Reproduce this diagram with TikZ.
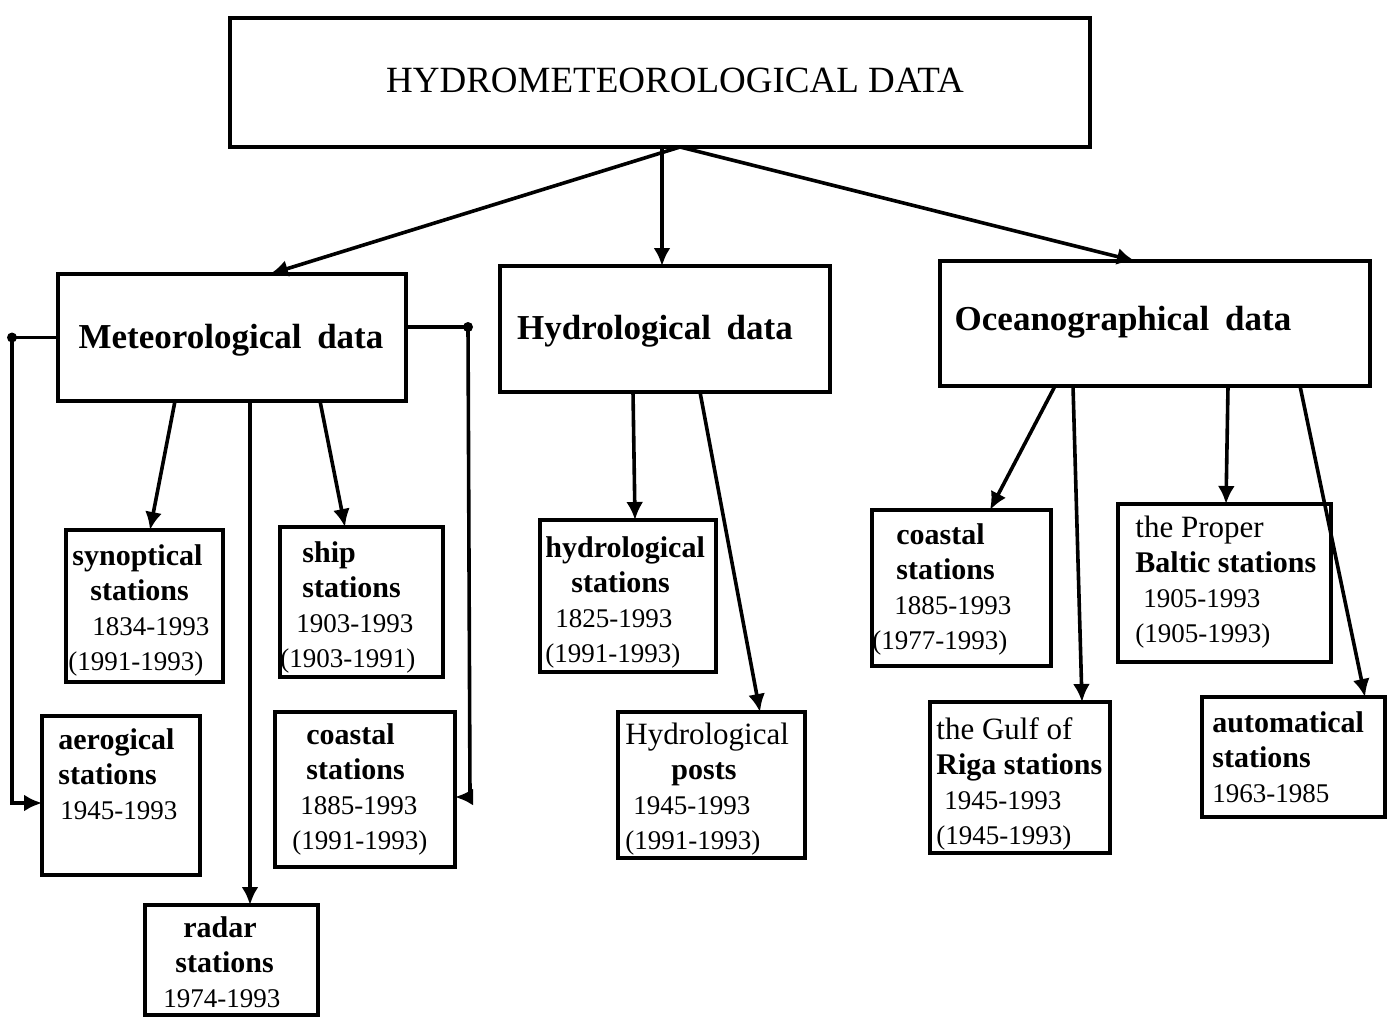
\documentclass[tikz,border=0pt]{standalone}
\usepackage{fontspec}
\setmainfont{Liberation Serif}
\usetikzlibrary{arrows.meta,fit}
\newcommand\nm[1]{{\bfseries\fontsize{15}{17.5}\selectfont #1}}
\newcommand\nr[1]{{\fontsize{15.5}{17.5}\selectfont #1}}
\begin{document}
\begin{tikzpicture}[x=0.5pt,y=-0.5pt,
  box/.style={draw,line width=2.1pt,inner sep=0pt},
  conn/.style={line width=1.8pt,-{Latex[length=9pt,width=8.5pt]}},
  wire/.style={line width=1.8pt},
  lbl/.style={anchor=north west,inner sep=0pt,align=left,
    font=\fontsize{13.5}{17.5}\selectfont},
  head/.style={font=\bfseries\fontsize{17.5}{20}\selectfont},
  dotc/.style={circle,fill,inner sep=0pt,minimum size=5pt}]
\useasboundingbox (0,0) rectangle (1390,1018);
\fill[white] (0,0) rectangle (1390,1018);
% main boxes
\node[box,fit={(230,18) (1090,147)}] (top) {};
\node[font=\fontsize{18.5}{20}\selectfont] (title) at (675,80) {HYDROMETEOROLOGICAL DATA};
\node[box,fit={(58,274) (406,401)}] (met) {};
\node[head] (met-t) at (231,340) {Meteorological\hspace{0.45em}data};
\node[box,fit={(500,266) (830,392)}] (hyd) {};
\node[head] (hyd-t) at (655,331) {Hydrological\hspace{0.45em}data};
\node[box,fit={(940,261) (1370,386)}] (oce) {};
\node[head] (oce-t) at (1123,322) {Oceanographical\hspace{0.45em}data};
% meteorological children
\node[box,fit={(66,530) (223,682)}] (syn) {};
\node[lbl] (syn-t) at (68,544) {\hspace*{2pt}\nm{synoptical}\\\hspace*{11pt}\nm{stations}\\\hspace*{12pt}1834-1993\\(1991-1993)};
\node[box,fit={(280,527) (443,677)}] (ship) {};
\node[lbl] (ship-t) at (280,541) {\hspace*{11pt}\nm{ship}\\\hspace*{11pt}\nm{stations}\\\hspace*{8pt}1903-1993\\(1903-1991)};
\node[box,fit={(42,716) (200,875)}] (aer) {};
\node[lbl] (aer-t) at (58,728) {\nm{aerogical}\\\nm{stations}\\\hspace*{1pt}1945-1993};
\node[box,fit={(275,712) (455,867)}] (cme) {};
\node[lbl] (cme-t) at (292,723) {\hspace*{7pt}\nm{coastal}\\\hspace*{7pt}\nm{stations}\\\hspace*{4pt}1885-1993\\(1991-1993)};
\node[box,fit={(145,905) (318,1015)}] (rad) {};
\node[lbl] (rad-t) at (163,916) {\hspace*{10pt}\nm{radar}\\\hspace*{6pt}\nm{stations}\\1974-1993};
% hydrological children
\node[box,fit={(540,520) (716,672)}] (hst) {};
\node[lbl] (hst-t) at (545,536) {\nm{hydrological}\\\hspace*{13pt}\nm{stations}\\\hspace*{5pt}1825-1993\\(1991-1993)};
\node[box,fit={(618,712) (805,858)}] (hpo) {};
\node[lbl] (hpo-t) at (625,723) {\nr{Hydrological}\\\hspace*{23pt}\nm{posts}\\\hspace*{4pt}1945-1993\\(1991-1993)};
% oceanographical children
\node[box,fit={(872,510) (1051,666)}] (coc) {};
\node[lbl] (coc-t) at (872,523) {\hspace*{12pt}\nm{coastal}\\\hspace*{12pt}\nm{stations}\\\hspace*{11pt}1885-1993\\(1977-1993)};
\node[box,fit={(1118,504) (1331,662)}] (pro) {};
\node[lbl] (pro-t) at (1135,516) {\nr{the Proper}\\\nm{Baltic stations}\\\hspace*{4pt}1905-1993\\(1905-1993)};
\node[box,fit={(930,702) (1110,853)}] (gul) {};
\node[lbl] (gul-t) at (936,717) {\nr{the Gulf of}\\\nm{Riga stations}\\\hspace*{4pt}1945-1993\\(1945-1993)};
\node[box,fit={(1202,697) (1385,817)}] (aut) {};
\node[lbl] (aut-t) at (1212,711) {\nm{automatical}\\\nm{stations}\\1963-1985};
% coordinates
\coordinate (tsrc) at (680,147);
\coordinate (tsrc2) at (662,147);
\coordinate (metin) at (270,274);
\coordinate (hydin) at (662,266);
\coordinate (ocein) at (1135,261);
% top connectors
\draw[conn] (tsrc) -- (metin);
\draw[conn] (tsrc2) -- (hydin);
\draw[conn] (tsrc) -- (ocein);
% meteorological connectors
\coordinate (m1) at (175,401);
\coordinate (m1e) at (150,530);
\coordinate (m2) at (250,401);
\coordinate (m2e) at (250,905);
\coordinate (m3) at (320,401);
\coordinate (m3e) at (345,527);
\draw[conn] (m1) -- (m1e);
\draw[conn] (m2) -- (m2e);
\draw[conn] (m3) -- (m3e);
\coordinate (lc1) at (12,337.5);
\coordinate (lc2) at (12,803);
\coordinate (aerin) at (42,803);
\draw[wire] (met.west) -- (lc1);
\draw[conn] (lc1) -- (lc2) -- (aerin);
\node[dotc] (lcd) at (lc1) {};
\coordinate (rc0) at (406,327);
\coordinate (rc1) at (468,327);
\coordinate (rc2) at (470,797);
\coordinate (cmein) at (455,797);
\draw[wire] (rc0) -- (rc1);
\draw[conn] (rc1) -- (rc2) -- (cmein);
\node[dotc] (rcd) at (rc1) {};
% hydrological connectors
\coordinate (h1) at (633,392);
\coordinate (h1e) at (635,520);
\coordinate (h2) at (700,392);
\coordinate (h2e) at (760,712);
\draw[conn] (h1) -- (h1e);
\draw[conn] (h2) -- (h2e);
% oceanographical connectors
\coordinate (o1) at (1055,386);
\coordinate (o1e) at (990,510);
\coordinate (o2) at (1073,386);
\coordinate (o2e) at (1082,702);
\coordinate (o3) at (1228,386);
\coordinate (o3e) at (1226,504);
\coordinate (o4) at (1300,386);
\coordinate (o4e) at (1365,697);
\draw[conn] (o1) -- (o1e);
\draw[conn] (o2) -- (o2e);
\draw[conn] (o3) -- (o3e);
\draw[conn] (o4) -- (o4e);
\end{tikzpicture}
\end{document}
